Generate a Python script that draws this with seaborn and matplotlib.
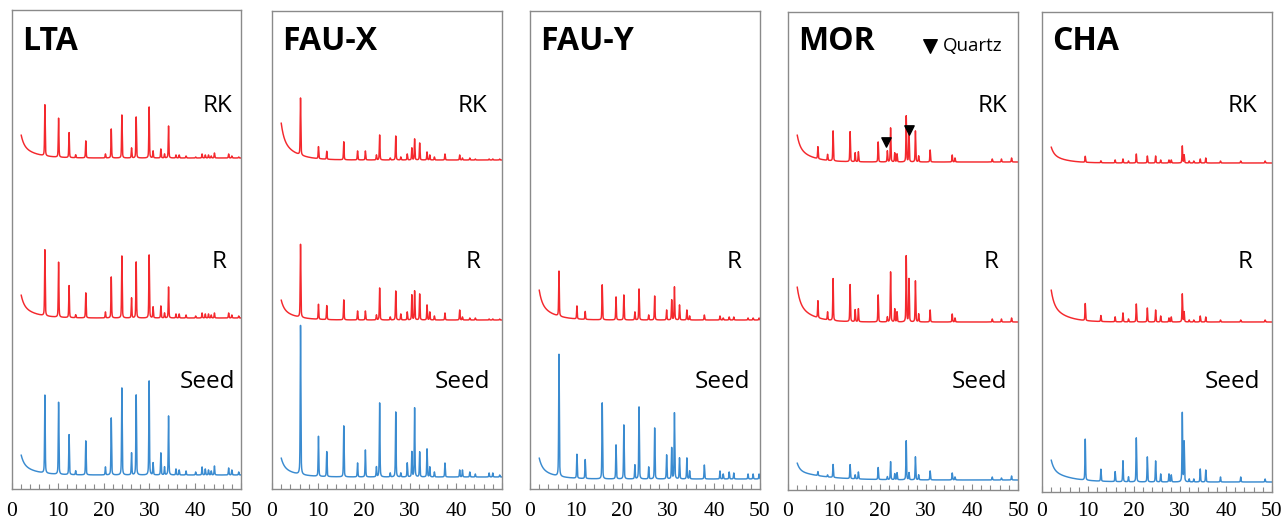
import numpy as np
import pandas as pd
import matplotlib
matplotlib.use("Agg")
import matplotlib.pyplot as plt
import seaborn as sns
from matplotlib.ticker import MultipleLocator
from matplotlib import font_manager

sns.set_theme(style="white")
plt.rcParams["font.family"] = ["Open Sans", "DejaVu Sans"]
plt.rcParams["font.serif"] = ["Liberation Serif", "DejaVu Serif"]

SERIF_PATH = font_manager.findfont(font_manager.FontProperties(family="Liberation Serif"))

W, H = 1285, 523

PANELS = ["LTA", "FAU-X", "FAU-Y", "MOR", "CHA"]
SAMPLES = ["Seed", "R", "RK"]
X_TICKS = [0, 10, 20, 30, 40, 50]

# ---- peak lists (2theta, deg) and heights above each pattern's baseline ----
LTA_POS = [7.18, 10.17, 12.46, 13.9, 16.11, 20.4, 21.67, 23.99, 26.1, 27.11, 29.94, 30.8, 32.5, 33.3,
           34.18, 35.8, 36.5, 38.0, 40.1, 41.5, 42.2, 42.9, 43.5, 44.2, 47.3, 48.0, 49.5]
LTA_SEED = [78, 72, 40, 4, 34, 8, 57, 87, 22, 80, 94, 12, 22, 8, 59, 6, 5, 4, 3, 8, 6, 5, 4, 9, 7, 5, 3]
LTA_R = [66, 55, 32, 3, 25, 6, 41, 62, 20, 56, 63, 11, 12, 5, 31, 4, 4, 3, 2, 5, 4, 4, 3, 5, 5, 3, 2]
LTA_RK = [51, 39, 25, 3, 17, 4, 29, 43, 10, 41, 51, 7, 9, 4, 32, 3, 3, 2, 1, 4, 3, 3, 2, 5, 4, 2, 1]

FAUX_POS = [6.2, 10.1, 11.9, 15.6, 18.6, 20.3, 22.7, 23.4, 25.7, 26.9, 28.0, 29.4, 30.4, 31.0, 32.1,
            33.7, 34.3, 35.3, 37.6, 40.8, 41.4, 43.0, 44.2, 47.2, 48.0, 49.5]
FAUX_SEED = [149, 40, 25, 51, 14, 27, 10, 74, 4, 65, 4, 14, 25, 69, 25, 28, 10, 5, 14, 7, 7, 5, 3, 4, 4, 2]
FAUX_R = [73, 15, 14, 20, 9, 9, 5, 32, 3, 29, 6, 8, 25, 29, 26, 15, 8, 4, 7, 10, 3, 2, 2, 1, 1, 1]
FAUX_RK = [57, 12, 8, 18, 9, 9, 5, 25, 2, 24, 3, 6, 12, 21, 17, 8, 5, 3, 6, 5, 2, 2, 1, 1, 1, 1]

FAUY_POS = [6.3, 10.2, 12.0, 15.7, 18.7, 20.4, 22.8, 23.7, 25.8, 27.1, 29.7, 30.8, 31.4, 32.5, 34.1,
            34.7, 37.9, 41.3, 42.0, 43.3, 44.3, 47.4, 48.5, 49.8]
FAUY_SEED = [122, 24, 19, 76, 34, 54, 14, 72, 12, 51, 24, 31, 66, 21, 21, 8, 14, 8, 5, 7, 6, 5, 5, 5]
FAUY_R = [45, 13, 8, 35, 23, 25, 8, 31, 5, 24, 10, 20, 33, 15, 10, 4, 5, 4, 2, 3, 3, 2, 2, 2]
FAUY_RK = None

MOR_POS = [6.5, 8.6, 9.8, 13.5, 14.6, 15.3, 19.6, 21.6, 22.3, 23.2, 23.7, 25.7, 26.3, 27.7, 28.4,
           30.9, 35.7, 36.3, 44.4, 46.4, 48.6]
MOR_SEED = [4, 2, 13, 14, 4, 7, 12, 3, 18, 6, 7, 39, 7, 23, 5, 9, 7, 3, 3, 2, 4]
MOR_R = [17, 8, 42, 37, 12, 13, 27, 5, 50, 13, 10, 66, 43, 41, 8, 12, 8, 4, 3, 3, 4]
MOR_RK = [12, 6, 30, 30, 9, 10, 20, 11, 34, 9, 8, 46, 30, 31, 6, 12, 7, 4, 3, 3, 4]

CHA_POS = [9.4, 12.8, 15.9, 17.6, 18.8, 20.5, 22.9, 24.7, 25.8, 27.6, 28.1, 30.5, 30.9, 32.0, 33.0,
           34.4, 35.6, 38.8, 43.2, 48.5]
CHA_SEED = [41, 12, 10, 21, 5, 44, 25, 21, 8, 8, 7, 69, 40, 3, 3, 13, 12, 5, 5, 3]
CHA_R = [17, 6, 5, 9, 3, 18, 14, 12, 6, 4, 5, 28, 10, 2, 2, 6, 5, 2, 2, 2]
CHA_RK = [6, 2, 3, 4, 2, 9, 7, 7, 3, 3, 3, 17, 8, 2, 2, 4, 5, 2, 2, 2]

# baseline offsets (Seed, R, RK) and low-angle background amplitude (Seed, R, RK)
LTA_BASE, LTA_BG = [14, 171, 331], [20, 23, 23]
FAUX_BASE, FAUX_BG = [12, 169, 329], [19, 20, 37]
FAUY_BASE, FAUY_BG = [10, 169, None], [21, 30, None]
MOR_BASE, MOR_BG = [10, 168, 328], [17, 35, 27]
CHA_BASE, CHA_BG = [10, 170, 329], [22, 32, 16]
# slow background tail (deg) per sample
STD_TAIL = [3, 3, 3]
MOR_TAIL = [6, 3, 3]
CHA_TAIL = [4, 3, 3]

QUARTZ_POS = [21.3, 26.3]
QUARTZ_LEVEL = [348, 360]

PANEL_DATA = {
    "LTA": (LTA_POS, [LTA_SEED, LTA_R, LTA_RK], LTA_BASE, LTA_BG, STD_TAIL),
    "FAU-X": (FAUX_POS, [FAUX_SEED, FAUX_R, FAUX_RK], FAUX_BASE, FAUX_BG, STD_TAIL),
    "FAU-Y": (FAUY_POS, [FAUY_SEED, FAUY_R, FAUY_RK], FAUY_BASE, FAUY_BG, STD_TAIL),
    "MOR": (MOR_POS, [MOR_SEED, MOR_R, MOR_RK], MOR_BASE, MOR_BG, MOR_TAIL),
    "CHA": (CHA_POS, [CHA_SEED, CHA_R, CHA_RK], CHA_BASE, CHA_BG, CHA_TAIL),
}

# ---- layout (figure pixels: left, right, top, bottom) ----
BOXES = {
    "LTA": (12, 241, 10, 489),
    "FAU-X": (272, 502, 11, 489),
    "FAU-Y": (530, 760, 11, 489),
    "MOR": (788, 1018, 12, 490),
    "CHA": (1042, 1272, 12, 492),
}
TICK_PAD = {"LTA": 9, "FAU-X": 9, "FAU-Y": 9, "MOR": 8.5, "CHA": 7}
LABEL_RIGHT = {  # right edge of Seed, R, RK labels (fig px)
    "LTA": (235, 227, 232),
    "FAU-X": (490, 481, 487),
    "FAU-Y": (750, 742, None),
    "MOR": (1007, 998, 1007),
    "CHA": (1260, 1252, 1257),
}
LABEL_BASELINE = (388, 268, 112)

RED = "#f4282d"
BLUE = "#3a8bd0"
PALETTE = {"Seed": BLUE, "R": RED, "RK": RED}
GRAY = "#8a8a8a"

two_theta = np.arange(2.0, 50.0001, 0.01)


def pattern(pos, heights, amp, tail, fwhm=0.16):
    x = two_theta
    y = np.zeros_like(x)
    for p, h in zip(pos, heights):
        d = (x - p) / fwhm
        y += h * (0.55 * np.exp(-4 * np.log(2) * d ** 2) + 0.45 / (1 + 4 * d ** 2))
    y += amp * (0.45 * np.exp(-(x - 2) / 0.6) + 0.55 * np.exp(-(x - 2) / tail))
    return y


fig = plt.figure(figsize=(W / 100, H / 100), dpi=100)


def fx(px):
    return px / W


def fy(py):
    return 1 - py / H


for name in PANELS:
    L, R, T, B = BOXES[name]
    ax = fig.add_axes([L / W, (H - B) / H, (R - L) / W, (B - T) / H])
    pos, series, base, bg, tail = PANEL_DATA[name]
    frames = []
    for s, hts, b, a, t in zip(SAMPLES, series, base, bg, tail):
        if hts is None:
            continue
        frames.append(pd.DataFrame({"two_theta": two_theta,
                                    "intensity": pattern(pos, hts, a, t) + b,
                                    "sample": s}))
    df = pd.concat(frames, ignore_index=True)
    sns.lineplot(data=df, x="two_theta", y="intensity", hue="sample", palette=PALETTE,
                 estimator=None, sort=False, legend=False, lw=1.05, ax=ax)
    ax.set_xlim(0, 50)
    ax.set_ylim(0, B - T)
    ax.set_xlabel("")
    ax.set_ylabel("")
    ax.set_yticks([])
    ax.set_xticks(X_TICKS)
    ax.xaxis.set_minor_locator(MultipleLocator(2))
    ax.tick_params(axis="x", which="both", direction="in", color=GRAY, width=0.8,
                   bottom=True, top=False, pad=TICK_PAD[name], labelcolor="black")
    ax.tick_params(axis="x", which="major", length=4.5)
    ax.tick_params(axis="x", which="minor", length=3.5)
    ax.set_xticklabels([str(v) for v in X_TICKS],
                       fontproperties=font_manager.FontProperties(fname=SERIF_PATH, size=15.5))
    for sp in ax.spines.values():
        sp.set_color(GRAY)
        sp.set_linewidth(1.0)

    # title
    fig.text(fx(L + 10), fy(50), name, fontsize=23, fontweight="bold", ha="left", va="baseline",
             color="black")
    # sample labels
    for s, xr, yb in zip(SAMPLES, LABEL_RIGHT[name], LABEL_BASELINE):
        if xr is None:
            continue
        fig.text(fx(xr), fy(yb), s, fontsize=17.5, ha="right", va="baseline", color="black")

    if name == "MOR":
        ax.scatter(QUARTZ_POS, QUARTZ_LEVEL, marker="v", s=45, color="black", zorder=5)
        ax.scatter([(930 - L) / (R - L)], [1 - (46 - T) / (B - T)], transform=ax.transAxes,
                   marker="v", s=95, color="black", clip_on=False, zorder=5)
        fig.text(fx(943), fy(51), "Quartz", fontsize=13.5, ha="left", va="baseline", color="black")

fig.savefig("out.png", dpi=100)
